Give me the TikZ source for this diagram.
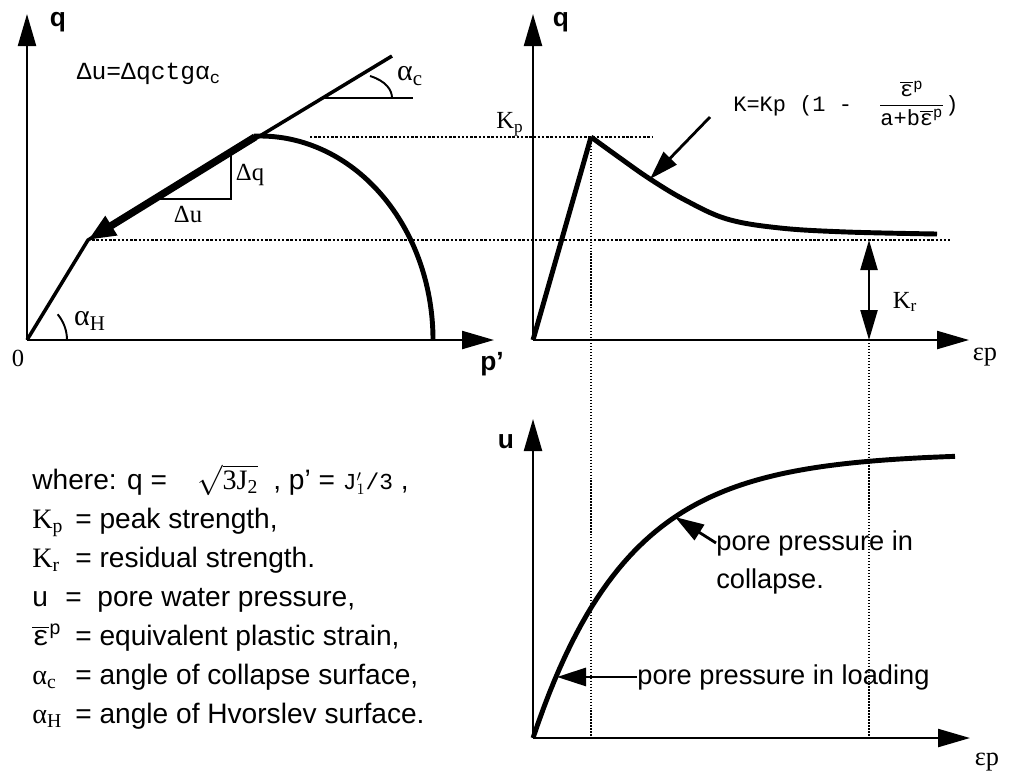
\documentclass[tikz,border=0pt]{standalone}
\usepackage{fontspec}
\setmainfont{Liberation Sans}
\newfontfamily\serif{Liberation Serif}
\newfontfamily\mono{Liberation Mono}
\usetikzlibrary{arrows.meta, positioning}

\newcommand{\epsbar}{$\overline{\hbox{ε}}$\textsuperscript{p}}

\begin{document}
\begin{tikzpicture}[
  x=0.02cm, y=-0.02cm,
  axis/.style={line width=1.3pt, -{Triangle[length=0.64cm, width=0.36cm]}},
  strongline/.style={line width=2.8pt, line join=round},
  envelope/.style={line width=2pt},
  unload/.style={line width=4.2pt, -{Triangle[length=0.55cm, width=0.42cm]}},
  pointer/.style={line width=1.6pt, -{Triangle[length=0.58cm, width=0.36cm]}},
  krange/.style={line width=1.3pt, {Triangle[length=0.6cm, width=0.34cm]}-{Triangle[length=0.6cm, width=0.34cm]}},
  guide/.style={densely dotted, line width=1.4pt},
  vguide/.style={densely dotted, line width=0.7pt},
  lightline/.style={line width=1.1pt},
  axlabel/.style={font=\bfseries\fontsize{15}{15}\selectfont},
  serlabel/.style={font=\serif\fontsize{14}{14}\selectfont},
  greeklabel/.style={font=\serif\fontsize{17}{17}\selectfont},
  monolabel/.style={font=\mono\fontsize{14}{14}\selectfont},
  monoformula/.style={font=\mono\fontsize{12.5}{12.5}\selectfont, anchor=base west, inner sep=0pt},
  legend/.style={font=\fontsize{16}{16}\selectfont, anchor=base west, inner sep=0pt},
  note/.style={font=\fontsize{15.5}{15.5}\selectfont, anchor=base west, inner sep=0pt}
]
\useasboundingbox (0,0) rectangle (1013,772);

% q - p' plane
\coordinate (O1) at (27,340);
\coordinate (Q1) at (27,14);
\coordinate (P1) at (494,340);
\coordinate (H) at (88,240);
\coordinate (top) at (255,137);
\coordinate (Cend) at (392,56);

\draw[guide] (310,137) -- (652,137);
\draw[guide] (H) -- (950,240);

\draw[axis] (O1) -- (Q1);
\draw[axis] (O1) -- (P1);
\draw[envelope] (O1) -- (H) -- (Cend);
\draw[strongline] (433,340) arc[start angle=0, end angle=-92, x radius=173, y radius=204];
\draw[unload] (top) -- (H);
\draw[lightline] (231,153) -- (231,199) -- (156,199);
\draw[lightline] (323,98) -- (413,98);
\draw[lightline] (370,76) .. controls (386,81) and (392,90) .. (392,98);
\draw[lightline] (67,340) arc[start angle=0, end angle=-40, radius=40];

\node[axlabel] (qa) at (58,22) {q};
\node[serlabel] (zero) at (18,358) {0};
\node[axlabel] (pa) at (492,364) {p'};
\node[greeklabel] (aH) at (90,321) {α\textsubscript{H}};
\node[serlabel] (dq) at (250,175) {Δq};
\node[serlabel] (du) at (188,214) {Δu};
\node[monolabel] (rule) at (149,74) {Δu=Δqctgα\textsubscript{c}};
\node[greeklabel] (ac) at (410,76) {α\textsubscript{c}};

% q - ep plane
\coordinate (O2) at (533,340);
\coordinate (Q2) at (533,14);
\coordinate (E2) at (969,340);
\coordinate (pk) at (591,137);
\coordinate (hit) at (650,179);
\coordinate (Rtop) at (869,240);
\coordinate (Rbot) at (869,340);

\draw[vguide] (pk) -- (591,738);
\draw[vguide] (Rbot) -- (869,738);
\draw[axis] (O2) -- (Q2);
\draw[axis] (O2) -- (E2);
\draw[strongline] (O2) -- (pk);
\draw[strongline] plot[smooth, tension=0.6] coordinates {(pk) (620,158) (hit) (685,200) (727,219) (780,228) (847,232) (937,234)};

\node[monoformula] (law) at (733,111) {K=Kp\ (1\ -\ \ $\displaystyle\frac{\hbox{\epsbar}}{\hbox{a+b\epsbar}}$)};
\draw[pointer] (710,117) -- (hit);
\draw[krange] (Rbot) -- (Rtop);

\node[serlabel] (Kp) at (510,124) {K\textsubscript{p}};
\node[serlabel] (Kr) at (905,302) {K\textsubscript{r}};
\node[axlabel] (qb) at (561,22) {q};
\node[serlabel, font=\serif\fontsize{15}{15}\selectfont] (ep1) at (985,357) {εp};

% u - ep plane
\coordinate (O3) at (533,738);
\coordinate (U3) at (533,419);
\coordinate (E3) at (970,738);
\coordinate (uload) at (557,674);
\coordinate (ucol) at (675,517);

\draw[axis] (O3) -- (U3);
\draw[axis] (O3) -- (E3);
\draw[strongline] plot[domain=0:422, samples=80] ({533+\x}, {738-285*(1-exp(-\x/95))});

\node[axlabel] (ua) at (506,442) {u};
\node[serlabel, font=\serif\fontsize{15}{15}\selectfont] (ep3) at (987,762) {εp};
\node[note] (col1) at (716,550) {pore pressure in};
\node[note] (col2) at (716,588) {collapse.};
\node[note] (load) at (637,684) {pore pressure in loading};
\draw[pointer] (col1.west) -- (ucol);
\draw[pointer] (load.west) -- (load.west -| uload);

% legend
\node[legend] (where) at (32,489) {where: q = \hspace{0.45cm}{\serif$\sqrt{\hbox{3J\textsubscript{2}}}$}\hspace{0.3cm}, p' = {\mono\fontsize{13}{13}\selectfont J$'_1$/3} ,};
\node[legend] (kp) at (32,528) {\makebox[0.86cm][l]{\serif K\textsubscript{p}}= peak strength,};
\node[legend] (kr) at (32,567) {\makebox[0.86cm][l]{\serif K\textsubscript{r}}= residual strength.};
\node[legend] (uu) at (32,606) {\makebox[0.66cm][l]{u}=\ \ pore water pressure,};
\node[legend] (eq) at (32,645) {\makebox[0.86cm][l]{\mono\epsbar}= equivalent plastic strain,};
\node[legend] (alc) at (32,684) {\makebox[0.86cm][l]{\serif α\textsubscript{c}}= angle of collapse surface,};
\node[legend] (alh) at (32,723) {\makebox[0.86cm][l]{\serif α\textsubscript{H}}= angle of Hvorslev surface.};
\end{tikzpicture}
\end{document}
